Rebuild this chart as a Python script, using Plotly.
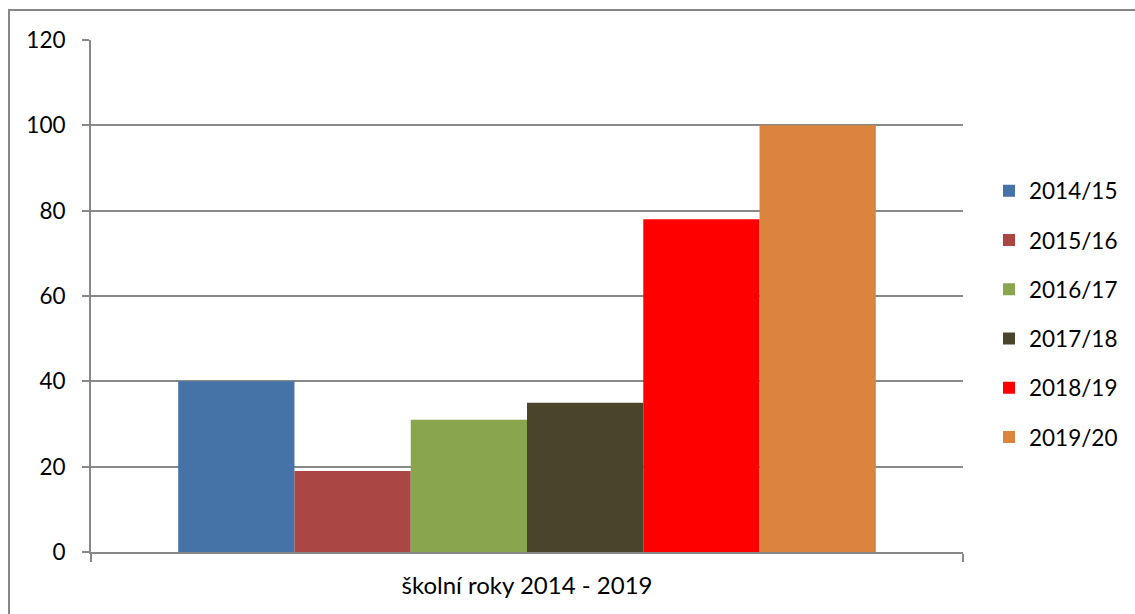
import plotly.graph_objects as go

category = ["školní roky 2014 - 2019"]
series_names = ["2014/15", "2015/16", "2016/17", "2017/18", "2018/19", "2019/20"]
series_values = [40, 19, 31, 35, 78, 100]
series_colors = ["#4572A7", "#AA4643", "#89A54E", "#4A452A", "#FF0000", "#DB843D"]
y_ticks = [0, 20, 40, 60, 80, 100, 120]

W, H = 1135, 614
L, R, T, B = 91, 963, 40, 552

fig = go.Figure()
for i, (name, val, col) in enumerate(zip(series_names, series_values, series_colors)):
    fig.add_trace(go.Bar(
        x=category, y=[val], name=name, marker=dict(color=col, line=dict(width=0)),
        legendgroup=f"g{i}",
    ))

def px_x(p):
    return (p - L) / (R - L)

def px_y(p):
    return (B - p) / (B - T)

font = dict(family="Lato, 'Open Sans', sans-serif", size=22.5, color="#000000")

fig.update_layout(
    width=W, height=H,
    margin=dict(l=L, r=W - R, t=T, b=H - B, pad=0),
    paper_bgcolor="white", plot_bgcolor="white",
    barmode="group", bargap=0.2, bargroupgap=0,
    font=font,
    showlegend=True,
    legend=dict(
        x=px_x(989), xanchor="left", y=px_y(314), yanchor="middle",
        font=font, tracegroupgap=17, bgcolor="rgba(0,0,0,0)",
    ),
    xaxis=dict(
        type="category", showline=True, linecolor="#888888", linewidth=2,
        ticks="outside", tickson="boundaries", ticklen=8, tickcolor="#888888", tickwidth=2,
        showgrid=False, zeroline=False, ticklabelstandoff=11,
        tickfont=dict(family=font["family"], size=24, color="#000000"),
    ),
    yaxis=dict(
        range=[0, 120], tickvals=y_ticks, showline=True, linecolor="#888888", linewidth=2,
        ticks="outside", ticklen=7, tickcolor="#888888", tickwidth=2,
        showgrid=True, gridcolor="#888888", gridwidth=1.5, zeroline=False,
        ticklabelstandoff=12,
    ),
    shapes=[dict(
        type="rect", xref="paper", yref="paper",
        x0=px_x(9), x1=px_x(1145), y0=px_y(624), y1=px_y(10),
        line=dict(color="#868686", width=2), fillcolor="rgba(0,0,0,0)", layer="above",
    )],
)

fig.write_html(
    "out.html",
    config={"displayModeBar": False},
    post_script="document.body.style.margin='0';document.body.style.overflow='hidden';",
)
